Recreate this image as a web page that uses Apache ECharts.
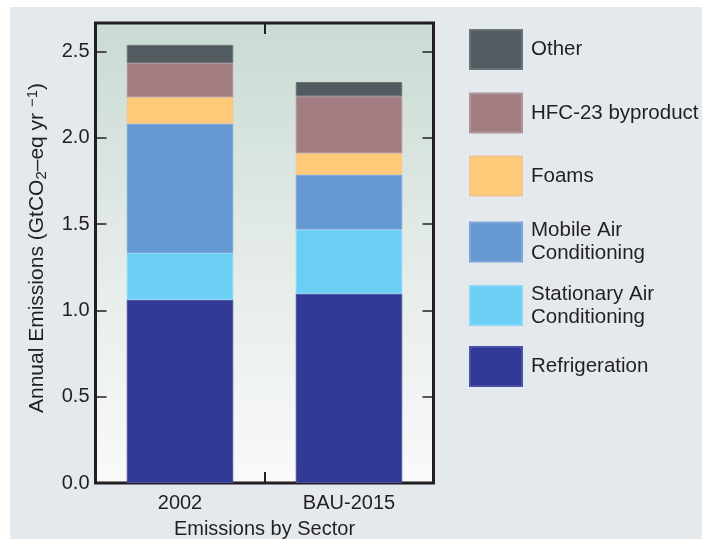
<!DOCTYPE html>
<html>
<head>
<meta charset="utf-8">
<script src="https://cdn.jsdelivr.net/npm/echarts@6/dist/echarts.min.js"></script>
<style>
html,body{margin:0;padding:0;background:#ffffff;}
#panel{position:absolute;left:10px;top:7px;width:692px;height:532px;background:#e4e9ed;}
#chart{position:absolute;left:0;top:0;width:702px;height:539px;}
</style>
</head>
<body>
<div id="panel"></div>
<div id="chart"></div>
<script>
const categories = ['2002', 'BAU-2015'];
const refrigeration = [1.062, 1.097];
const stationaryAC = [0.271, 0.371];
const mobileAC = [0.749, 0.318];
const foams = [0.153, 0.124];
const hfc23 = [0.198, 0.330];
const other = [0.105, 0.083];
const yTicks = [0, 0.5, 1.0, 1.5, 2.0, 2.5];

const seriesDefs = [
  {name: 'Refrigeration', data: refrigeration, color: '#333a96', border: '#4a52a8'},
  {name: 'Stationary Air\nConditioning', data: stationaryAC, color: '#6bcff5', border: '#86d9f7'},
  {name: 'Mobile Air\nConditioning', data: mobileAC, color: '#6699d1', border: '#7aa8da'},
  {name: 'Foams', data: foams, color: '#ffcb7a', border: '#f5c48a'},
  {name: 'HFC-23 byproduct', data: hfc23, color: '#a17c81', border: '#b0969a'},
  {name: 'Other', data: other, color: '#525c60', border: '#6a7377'}
];

const legendTops = {
  'Other': 29, 'HFC-23 byproduct': 92.5, 'Foams': 155.5,
  'Mobile Air\nConditioning': 219, 'Stationary Air\nConditioning': 282.5, 'Refrigeration': 346
};

const chart = echarts.init(document.getElementById('chart'), null, {renderer: 'canvas'});
const textCol = '#231f20';
const font = 'Liberation Sans, Arial, sans-serif';

const legends = seriesDefs.map(s => ({
  data: [s.name],
  left: 469,
  top: legendTops[s.name],
  padding: 0,
  orient: 'vertical',
  itemWidth: 52,
  itemHeight: 39,
  icon: 'rect',
  selectedMode: false,
  textStyle: {color: textCol, fontSize: 20.5, fontFamily: font, lineHeight: 23, padding: [0, 0, 0, 4]}
}));

chart.setOption({
  animation: false,
  textStyle: {fontFamily: font},
  grid: {
    left: 95.5, right: 268.5, top: 23, bottom: 56,
    outerBoundsMode: 'none',
    containLabel: false,
    show: true,
    borderWidth: 3,
    borderColor: textCol,
    backgroundColor: new echarts.graphic.LinearGradient(0, 0, 0, 1, [
      {offset: 0, color: '#c9dbd3'},
      {offset: 0.5, color: '#e4ebe7'},
      {offset: 1, color: '#f9faf9'}
    ])
  },
  legend: legends,
  xAxis: [{
    type: 'category',
    data: categories,
    position: 'bottom',
    axisLine: {show: false, onZero: false},
    axisTick: {show: true, inside: true, length: 11, lineStyle: {color: textCol, width: 2}},
    axisLabel: {color: textCol, fontSize: 20, margin: 10, fontFamily: font},
    name: 'Emissions by Sector',
    nameLocation: 'middle',
    nameGap: 36,
    nameTextStyle: {color: textCol, fontSize: 20, fontFamily: font}
  }, {
    type: 'category',
    data: categories,
    position: 'top',
    axisLine: {show: false, onZero: false},
    axisTick: {show: true, inside: true, length: 11, lineStyle: {color: textCol, width: 2}},
    axisLabel: {show: false}
  }],
  yAxis: [{
    type: 'value',
    min: 0,
    max: 2.665,
    interval: 0.5,
    position: 'left',
    axisLine: {show: false},
    axisTick: {show: true, inside: true, length: 11, lineStyle: {color: textCol, width: 1.5}},
    splitLine: {show: false},
    axisLabel: {
      color: textCol, fontSize: 20, margin: 6, fontFamily: font,
      showMaxLabel: false,
      formatter: v => (yTicks.indexOf(Math.round(v * 10) / 10) >= 0 ? v.toFixed(1) : '')
    },
    name: 'Annual Emissions (GtCO{sub|2}–eq yr {sup|−1})',
    nameLocation: 'middle',
    nameGap: 46,
    nameTextStyle: {
      color: textCol, fontSize: 21, fontFamily: font, lineHeight: 24,
      padding: [0, 0, 0, 10],
      rich: {
        sub: {fontSize: 15, verticalAlign: 'bottom', lineHeight: 24, color: textCol, fontFamily: font, padding: [9, 0, 0, 0]},
        sup: {fontSize: 15, verticalAlign: 'top', lineHeight: 24, color: textCol, fontFamily: font, padding: [0, 0, 8, 0]}
      }
    }
  }, {
    type: 'value',
    min: 0,
    max: 2.665,
    interval: 0.5,
    position: 'right',
    axisLine: {show: false},
    axisTick: {show: true, inside: true, length: 11, lineStyle: {color: textCol, width: 1.5}},
    splitLine: {show: false},
    axisLabel: {show: false}
  }],
  series: seriesDefs.map(s => ({
    name: s.name,
    type: 'bar',
    stack: 'total',
    data: s.data,
    barWidth: '63%',
    itemStyle: {color: s.color, borderColor: s.border, borderWidth: 1},
    emphasis: {disabled: true}
  }))
});
</script>
</body>
</html>
